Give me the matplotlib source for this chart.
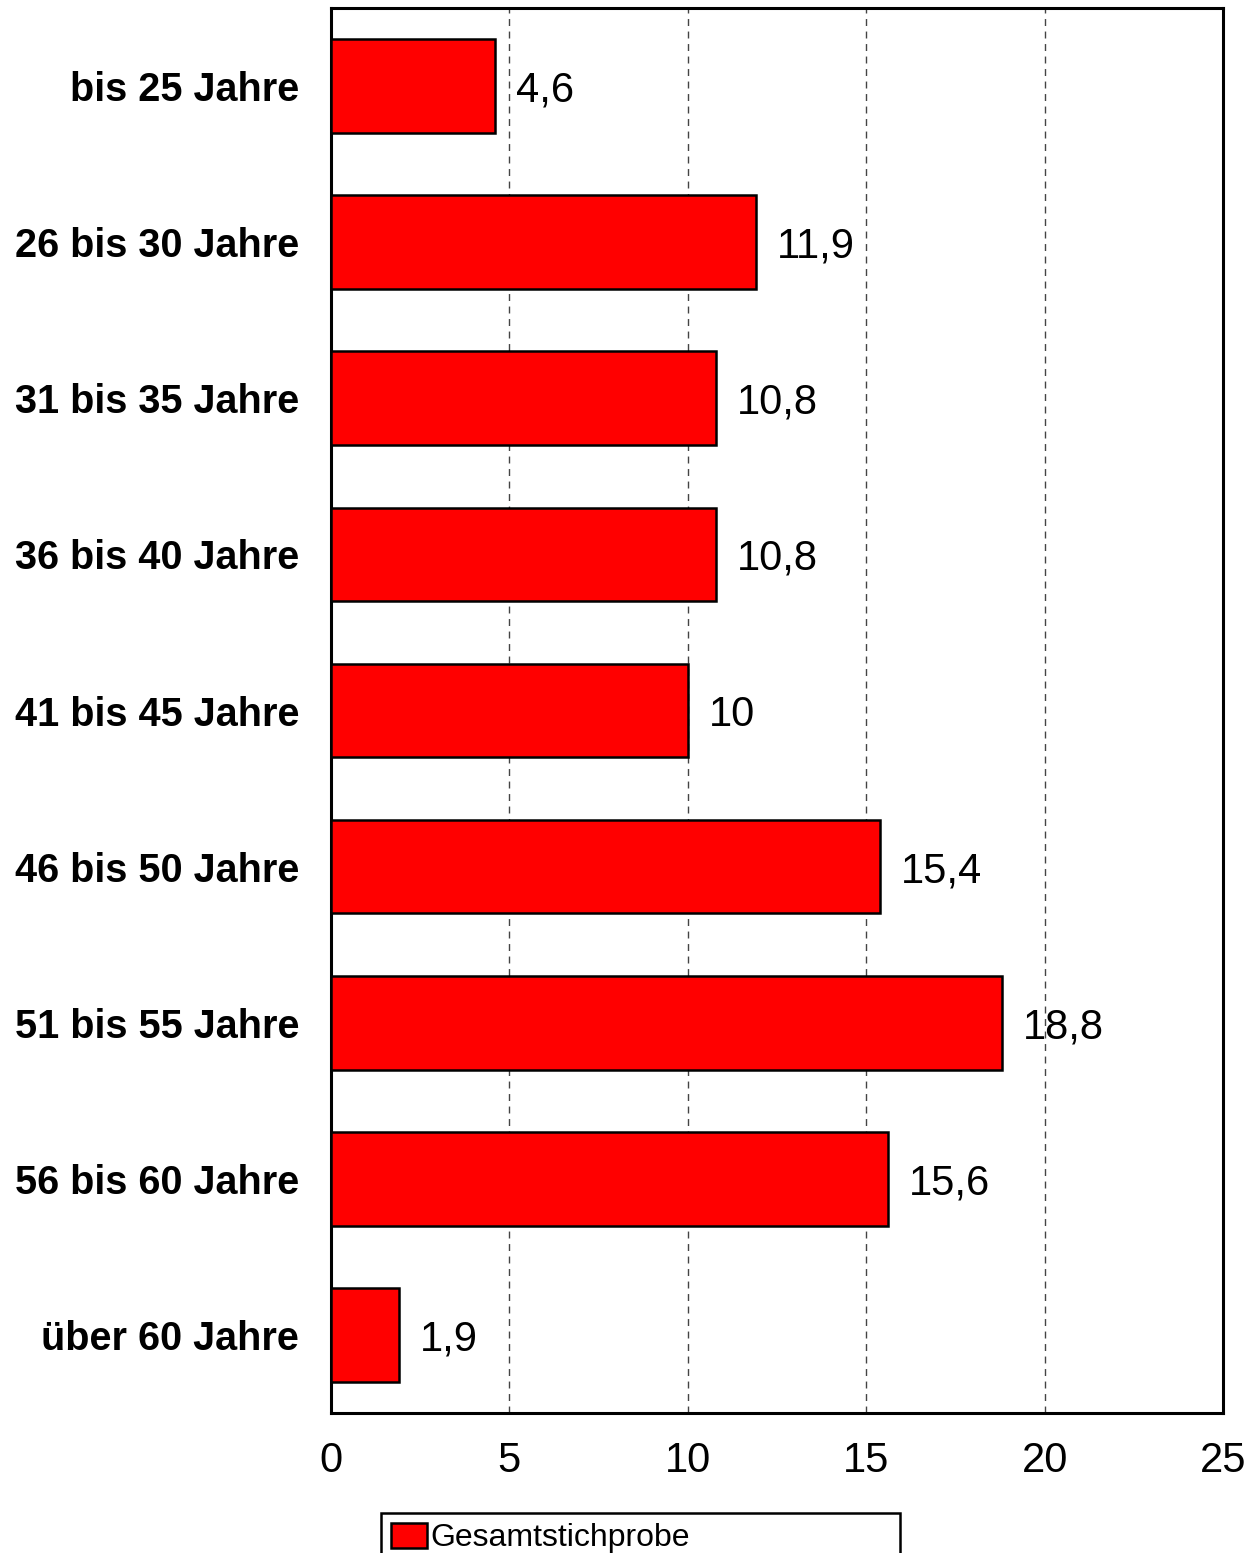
import matplotlib.pyplot as plt
from matplotlib.patches import Patch

plt.rcParams['font.family'] = ['Liberation Sans', 'DejaVu Sans']

# Data
categories = ['bis 25 Jahre', '26 bis 30 Jahre', '31 bis 35 Jahre', '36 bis 40 Jahre',
              '41 bis 45 Jahre', '46 bis 50 Jahre', '51 bis 55 Jahre', '56 bis 60 Jahre',
              'über 60 Jahre']
values = [4.6, 11.9, 10.8, 10.8, 10.0, 15.4, 18.8, 15.6, 1.9]
value_labels = ['4,6', '11,9', '10,8', '10,8', '10', '15,4', '18,8', '15,6', '1,9']
x_ticks = [0, 5, 10, 15, 20, 25]

W, H = 1258, 1553
fig = plt.figure(figsize=(W / 100, H / 100), dpi=100)
ax = fig.add_axes([331 / W, 1 - 1413 / H, (1223 - 331) / W, (1413 - 8) / H])

y = list(range(len(categories)))
ax.barh(y, values, height=0.6, color='#ff0000', edgecolor='black', linewidth=1.8, zorder=3)

for yi, v, lab in zip(y, values, value_labels):
    ax.annotate(lab, xy=(v, yi), xytext=(15, 0), textcoords='offset points',
                va='center_baseline', ha='left', fontsize=30, zorder=4)

ax.set_xlim(0, 25)
ax.set_ylim(8.5, -0.5)
ax.set_xticks(x_ticks)
ax.set_xticklabels([str(t) for t in x_ticks], fontsize=30)
ax.set_yticks(y)
ax.set_yticklabels(categories, fontsize=28.5, fontweight='bold')
ax.tick_params(axis='x', length=0, pad=20)
ax.tick_params(axis='y', length=0, pad=23)

for t in [5, 10, 15, 20]:
    ax.axvline(t, color='#444444', linestyle=(0, (5, 4)), linewidth=1.0, zorder=1)

for s in ax.spines.values():
    s.set_linewidth(2.2)
    s.set_color('black')

# Legend
handle = Patch(facecolor='#ff0000', edgecolor='black', linewidth=1.8)
leg = fig.legend([handle], ['Gesamtstichprobe'], loc='upper left',
                 bbox_to_anchor=(381 / W, 1 - 1513 / H, 519 / W, 0.0), mode='expand',
                 fontsize=23, frameon=True, fancybox=False, framealpha=1, borderpad=0.3,
                 handlelength=1.15, handleheight=0.85, handletextpad=0.1, borderaxespad=0)
leg.get_frame().set_edgecolor('black')
leg.get_frame().set_linewidth(1.8)

fig.savefig('out.png', dpi=100)
